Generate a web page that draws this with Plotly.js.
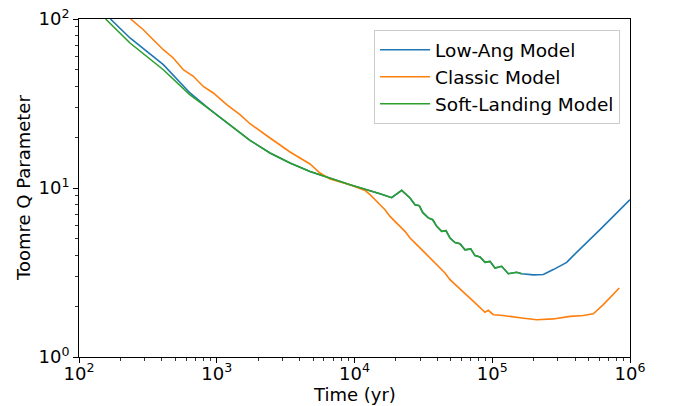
<!DOCTYPE html>
<html>
<head>
<meta charset="utf-8">
<script src="https://cdn.plot.ly/plotly-3.0.1.min.js"></script>
<style>
html,body{margin:0;padding:0;background:#fff;}
#chart{width:673px;height:406px;}
</style>
</head>
<body>
<div id="chart"></div>
<script>
// Series names
var seriesNames = ["Low-Ang Model", "Classic Model", "Soft-Landing Model"];

// Low-Ang Model (blue)
var lowAngX = [169, 234.6, 409.3, 639.4, 893.3, 1319, 1743, 2436, 3403, 4753, 6638, 9274, 15315, 18620, 22000, 25300, 27500, 29540, 31260, 34340, 36960, 39530, 42960, 46150, 49350, 53650, 58330, 63420, 69770, 74950, 81500, 88600, 96300, 104700, 117100, 130800, 150500, 163600, 198600, 234800, 277500, 310300, 347100, 387600, 485000, 605700, 756600, 1000000];
var lowAngY = [100, 77.2, 53.7, 36.5, 29.06, 22.65, 19.13, 16.11, 14.06, 12.54, 11.46, 10.46, 9.25, 8.76, 9.68, 8.73, 7.96, 7.86, 7.17, 6.65, 6.49, 5.93, 5.54, 5.59, 5.06, 4.76, 4.68, 4.31, 4.36, 3.98, 3.91, 3.63, 3.68, 3.36, 3.44, 3.11, 3.17, 3.11, 3.06, 3.08, 3.29, 3.47, 3.63, 3.98, 4.73, 5.67, 6.79, 8.53];

// Classic Model (orange)
var classicX = [237, 293, 346.2, 409.3, 483.6, 571.7, 675.7, 798.5, 944, 1181, 1475, 1743, 2436, 3403, 4753, 5617, 6638, 9274, 11920, 12960, 14890, 16650, 18100, 19680, 21390, 23260, 25300, 27500, 29890, 32500, 35330, 38410, 41750, 45400, 49350, 53650, 58330, 63420, 68950, 74950, 81500, 88600, 93600, 101800, 120300, 142200, 163600, 210300, 277500, 366700, 458100, 541600, 640200, 836000];
var classicY = [100, 86.4, 75.4, 65.8, 58.8, 50.1, 45.8, 39.9, 36.5, 31.1, 27.2, 24.0, 19.76, 16.33, 13.87, 12.27, 11.31, 10.46, 9.68, 9.13, 8.15, 7.44, 6.79, 6.35, 5.93, 5.54, 5.06, 4.76, 4.42, 4.13, 3.85, 3.60, 3.36, 3.14, 2.87, 2.68, 2.53, 2.37, 2.23, 2.09, 1.98, 1.84, 1.89, 1.78, 1.76, 1.72, 1.70, 1.66, 1.68, 1.74, 1.76, 1.80, 2.04, 2.56];

// Soft-Landing Model (green)
var softX = [156, 234.6, 409.3, 639.4, 893.3, 1319, 1743, 2436, 3403, 4753, 6638, 9274, 15315, 18620, 22000, 25300, 27500, 29540, 31260, 34340, 36960, 39530, 42960, 46150, 49350, 53650, 58330, 63420, 69770, 74950, 81500, 88600, 96300, 104700, 117100, 130800, 150500, 163600];
var softY = [100, 72.1, 50.1, 35.6, 29.06, 22.65, 19.13, 16.11, 14.06, 12.54, 11.46, 10.46, 9.25, 8.76, 9.68, 8.73, 7.96, 7.86, 7.17, 6.65, 6.49, 5.93, 5.54, 5.59, 5.06, 4.76, 4.68, 4.31, 4.36, 3.98, 3.91, 3.63, 3.68, 3.36, 3.44, 3.11, 3.17, 3.11];

// Tick labels
var xTickVals = [1e2, 1e3, 1e4, 1e5, 1e6];
var xTickText = ["10<sup>2</sup>", "10<sup>3</sup>", "10<sup>4</sup>", "10<sup>5</sup>", "10<sup>6</sup>"];
var yTickVals = [1, 10, 100];
var yTickText = ["10<sup>0</sup>", "10<sup>1</sup>", "10<sup>2</sup>"];
var xTitle = "Time (yr)";
var yTitle = "Toomre Q Parameter";

var colors = ["#1f77b4", "#ff7f0e", "#2ca02c"];
var xs = [lowAngX, classicX, softX];
var ys = [lowAngY, classicY, softY];

var traces = seriesNames.map(function(n, i){
  return {x: xs[i], y: ys[i], name: n, type: "scatter", mode: "lines",
          line: {color: colors[i], width: 1.6}};
});

function minorVals(lo, hi){
  var v = [];
  for (var e = lo; e < hi; e++) for (var d = 2; d <= 9; d++) v.push(d * Math.pow(10, e));
  return v;
}

var fontFam = "DejaVu Sans, sans-serif";
function axis(tv, tt, lo, hi, standoff){
  return {
    type: "log", range: [lo, hi],
    tickmode: "array", tickvals: tv, ticktext: tt,
    showgrid: false, zeroline: false,
    showline: true, linecolor: "#000", linewidth: 1, mirror: true,
    ticks: "outside", ticklen: 5, tickwidth: 1, tickcolor: "#000",
    ticklabelstandoff: standoff,
    tickfont: {family: fontFam, size: 18, color: "#000"},
    minor: {tickmode: "array", tickvals: minorVals(lo, hi), ticks: "outside", ticklen: 3, tickwidth: 0.8, tickcolor: "#000", showgrid: false}
  };
}

var layout = {
  width: 673, height: 406,
  margin: {l: 79, r: 43, t: 19, b: 49},
  paper_bgcolor: "#fff", plot_bgcolor: "#fff",
  showlegend: true,
  font: {family: fontFam, size: 18, color: "#000"},
  xaxis: axis(xTickVals, xTickText, 2, 6, -5),
  yaxis: axis(yTickVals, yTickText, 0, 2, 0),
  annotations: [
    {text: xTitle, xref: "paper", yref: "paper", x: 0.5, y: -38/338, xanchor: "center", yanchor: "middle", showarrow: false,
     font: {family: fontFam, size: 18, color: "#000"}},
    {text: yTitle, xref: "paper", yref: "paper", x: -56/551, y: 0.5, xanchor: "center", yanchor: "middle", textangle: -90, showarrow: false,
     font: {family: fontFam, size: 18, color: "#000"}}
  ],
  legend: {
    x: 0.982, y: 0.967, xanchor: "right", yanchor: "top",
    itemwidth: 50,
    bgcolor: "rgba(255,255,255,0.8)", bordercolor: "#cccccc", borderwidth: 1,
    font: {family: fontFam, size: 18.5, color: "#000"}
  }
};

Plotly.newPlot("chart", traces, layout, {displayModeBar: false, staticPlot: true});
</script>
</body>
</html>
